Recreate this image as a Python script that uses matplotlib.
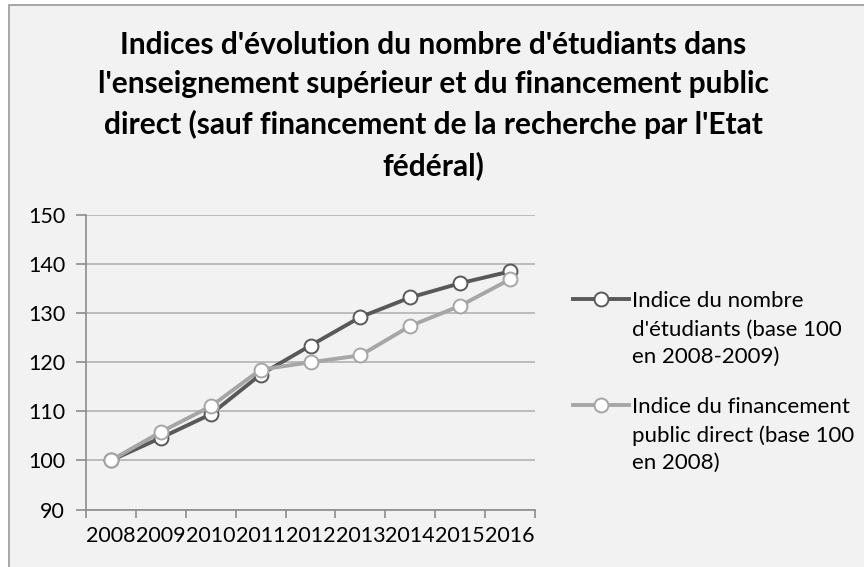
import matplotlib
matplotlib.use("Agg")
import matplotlib.pyplot as plt
from matplotlib.patches import Rectangle
import numpy as np

years = ["2008", "2009", "2010", "2011", "2012", "2013", "2014", "2015", "2016"]
etudiants = [100, 104.6, 109.4, 117.5, 123.4, 129.2, 133.2, 136.1, 138.5]
financement = [100, 105.8, 111.0, 118.5, 120.0, 121.4, 127.4, 131.5, 136.9]
label_etu = ["Indice du nombre", "d'étudiants (base 100", "en 2008-2009)"]
label_fin = ["Indice du financement", "public direct (base 100", "en 2008)"]
title = ("Indices d'évolution du nombre d'étudiants dans\n"
         "l'enseignement supérieur et du financement public\n"
         "direct (sauf financement de la recherche par l'Etat\n"
         "fédéral)")
yticks = [90, 100, 110, 120, 130, 140, 150]

plt.rcParams['font.family'] = ['Lato', 'DejaVu Sans']

W, H = 864, 567
fig = plt.figure(figsize=(W / 100, H / 100), dpi=100)
fig.patch.set_facecolor('white')
fig.patches.append(Rectangle((9 / W, -0.1), 1.2, 1 - 5 / H + 0.1, transform=fig.transFigure,
                             facecolor='#f2f2f2', edgecolor='#9a9a9a', linewidth=1.2, zorder=-10))

fig.text(433 / W, 1 - 31 / H, title, ha='center', va='top', fontsize=21.5,
         fontweight='bold', color='black', linespacing=1.49)

left, right, top, bottom = 86, 535, 215, 509.5
ax = fig.add_axes([left / W, 1 - bottom / H, (right - left) / W, (bottom - top) / H])
ax.set_facecolor('none')

x = np.arange(len(years))
ax.plot(x, etudiants, color='#595959', lw=2.8, marker='o', ms=10, mfc='white',
        mec='#595959', mew=1.4, label=label_etu[0], zorder=3)
ax.plot(x, financement, color='#a6a6a6', lw=2.8, marker='o', ms=10, mfc='white',
        mec='#a6a6a6', mew=1.4, label=label_fin[0], zorder=4)

ax.set_xlim(-0.5, len(years) - 0.5)
ax.set_ylim(90, 150)
ax.set_yticks(yticks)
ax.set_yticklabels([str(v) for v in yticks], fontsize=15.5)
ax.set_xticks(x)
ax.set_xticklabels(years, fontsize=15.5)
ax.set_xticks(np.arange(len(years) + 1) - 0.5, minor=True)
ax.tick_params(axis='x', which='major', length=0, pad=12)
ax.tick_params(axis='x', which='minor', length=6, width=1.2, color='#8c8c8c', direction='out')
ax.tick_params(axis='y', length=7, width=1.2, color='#8c8c8c', pad=8)
ax.grid(axis='y', color='#b3b3b3', lw=1.2, zorder=0)
for s in ['top', 'right']:
    ax.spines[s].set_visible(False)
for s in ['left', 'bottom']:
    ax.spines[s].set_color('#8c8c8c')
    ax.spines[s].set_linewidth(1.2)

fs_leg = 16
leg = ax.legend(loc='upper left', bbox_to_anchor=(573 / W, 1 - 291 / H), bbox_transform=fig.transFigure,
                frameon=False, fontsize=fs_leg, handlelength=2.5, handletextpad=0.15,
                labelspacing=3.85, borderpad=0, borderaxespad=0)

fig.canvas.draw()
renderer = fig.canvas.get_renderer()
inv = fig.transFigure.inverted()
for t, lab in zip(leg.get_texts(), [label_etu, label_fin]):
    bb = t.get_window_extent(renderer)
    x0, y0 = inv.transform((bb.x0, bb.y0))
    fig.text(x0, y0 - 9 / H, "\n".join(lab[1:]), ha='left', va='top',
             fontsize=fs_leg, linespacing=1.42)

fig.savefig('out.png', dpi=100, facecolor=fig.get_facecolor())
